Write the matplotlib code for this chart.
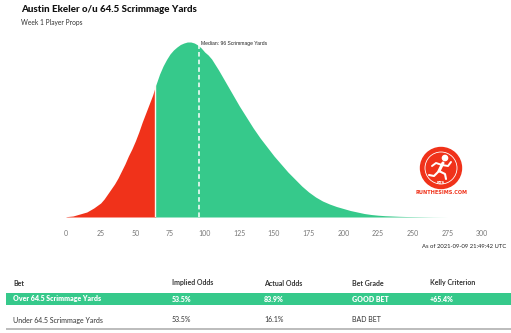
import matplotlib
matplotlib.use("Agg")
import matplotlib.pyplot as plt
from matplotlib.patches import Circle, Rectangle
import numpy as np

# simulated scrimmage yards density (relative height)
yards = [0, 5, 10, 15, 17.5, 20, 22.5, 25, 27.5, 30, 32.5, 35, 37.5, 40, 42.5, 45, 47.5,
         50, 52.5, 55, 57.5, 60, 62.5, 64.5, 65, 67.5, 70, 72.5, 75, 77.5, 80, 82.5, 85,
         87.5, 90, 92.5, 95, 97.5, 100, 102.5, 105, 110, 115, 120, 125, 130, 135, 140,
         145, 150, 155, 160, 165, 170, 175, 180, 185, 190, 195, 200, 205, 210, 215, 220,
         225, 230, 235, 240, 245, 250, 255, 260, 265, 270, 275]
density = [0.3, 1, 3, 5, 7, 9, 11.5, 14, 18, 23, 28, 33, 39, 46, 53, 61, 68,
           76, 85, 95, 104, 113, 122, 131, 133, 143, 151, 157.5, 163, 167, 170, 172.5, 174,
           175, 175, 174, 172, 169, 165, 162, 158, 147, 135, 123, 111, 100, 89, 79,
           70, 61, 53, 45, 38, 31, 25, 20, 16, 13, 10.5, 8.5, 6.5, 5, 3.5, 2.5,
           1.8, 1.3, 1.0, 0.7, 0.5, 0.4, 0.3, 0.2, 0.1, 0.05, 0]
line = 64.5
median = 96
xticks = [0, 25, 50, 75, 100, 125, 150, 175, 200, 225, 250, 275, 300]

title = "Austin Ekeler o/u 64.5 Scrimmage Yards"
subtitle = "Week 1 Player Props"
timestamp = "As of 2021-09-09 21:49:42 UTC"

columns = ["Bet", "Implied Odds", "Actual Odds", "Bet Grade", "Kelly Criterion"]
over_row = ["Over 64.5 Scrimmage Yards", "53.5%", "83.9%", "GOOD BET", "+65.4%"]
under_row = ["Under 64.5 Scrimmage Yards", "53.5%", "16.1%", "BAD BET", ""]
col_x = [13, 172, 264, 352, 430]

RED = "#f0321a"
GREEN = "#36c98b"
W, H = 511, 333
FONT = "Lato"

fig = plt.figure(figsize=(W / 100, H / 100), dpi=100)
fig.patch.set_facecolor("white")


def fx(px):
    return px / W


def fy(py):
    return 1 - py / H


# density plot: x=0 at 66px, x=300 at 482px, baseline at 217px
x0, x1, base, top = 66, 482, 217, 37
ax = fig.add_axes([fx(x0), fy(base), fx(x1 - x0), (base - top) / H])
xs = np.array(yards)
ys = np.array(density)
under = xs <= line
ax.fill_between(xs[under], ys[under], color=RED, lw=0)
ax.fill_between(xs[xs >= line], ys[xs >= line], color=GREEN, lw=0)
ax.axvline(line, ymax=ys[yards.index(line)] / 180, color="#fff8ee", lw=1.0)
med_h = ys[yards.index(95)]
ax.plot([median, median], [0, med_h], color="white", lw=1.1, ls=(0, (3, 2)))
ax.text(median + 1.5, med_h - 1, "Median: %d Scrimmage Yards" % median,
        fontsize=3.6, family="Liberation Sans", color="#222222", va="bottom")
ax.set_xlim(0, 300)
ax.set_ylim(0, 180)
ax.set_xticks(xticks)
ax.set_xticklabels([str(t) for t in xticks], fontsize=5, color="#777777", family=FONT)
ax.tick_params(axis="x", length=0, pad=9)
ax.set_yticks([])
for s in ax.spines.values():
    s.set_visible(False)
ax.patch.set_alpha(0)

fig.text(fx(21), fy(10), title, fontsize=7.0, fontweight="black", family=FONT,
         color="#111111", va="center")
fig.text(fx(21), fy(23), subtitle, fontsize=4.8, family=FONT, color="#333333", va="center")
fig.text(fx(506), fy(247), timestamp, fontsize=4.2, family=FONT, color="#222222",
         ha="right", va="center")

# logo
lax = fig.add_axes([fx(415), fy(198), fx(52), 52 / H])
lax.set_xlim(0, 52)
lax.set_ylim(0, 52)
lax.axis("off")
lax.add_patch(Circle((26, 30), 20.5, color=RED))
lax.add_patch(Circle((26, 30), 16, fill=False, ec="white", lw=0.6))
lax.add_patch(Circle((30, 40), 2.6, color="white"))
lax.plot([28, 24], [35, 27], color="white", lw=2.2, solid_capstyle="round")
lax.plot([27, 33, 36], [33, 32, 36], color="white", lw=1.4, solid_capstyle="round")
lax.plot([27, 21, 17], [33, 35, 32], color="white", lw=1.4, solid_capstyle="round")
lax.plot([24, 30, 31], [27, 24, 19], color="white", lw=1.5, solid_capstyle="round")
lax.plot([24, 19, 14], [27, 22, 23], color="white", lw=1.5, solid_capstyle="round")
lax.text(26, 15.5, "RTS", fontsize=2.8, color="white", ha="center", va="center",
         fontweight="bold", family="Liberation Sans Narrow")
lax.text(26, 5, "RUNTHESIMS.COM", fontsize=4.0, color=RED, ha="center", va="center",
         fontweight="bold", family="Liberation Sans Narrow", fontstretch="condensed")

# odds table
for x, c in zip(col_x, columns):
    fig.text(fx(x), fy(283), c, fontsize=5, fontweight="bold", family=FONT,
             color="#333333", va="center")
fig.patches.append(Rectangle((fx(6), fy(305)), 1 - fx(6), 12 / H,
                             transform=fig.transFigure, color=GREEN, lw=0))
for x, c in zip(col_x, over_row):
    fig.text(fx(x), fy(299), c, fontsize=5, fontweight="heavy", family=FONT,
             color="white", va="center")
for x, c in zip(col_x, under_row):
    fig.text(fx(x), fy(320), c, fontsize=5, family=FONT, color="#333333", va="center")
fig.patches.append(Rectangle((fx(6), fy(330)), 1 - fx(6), 2 / H,
                             transform=fig.transFigure, color="#bdbdbd", lw=0))

fig.savefig("out.png", dpi=100, facecolor="white")
